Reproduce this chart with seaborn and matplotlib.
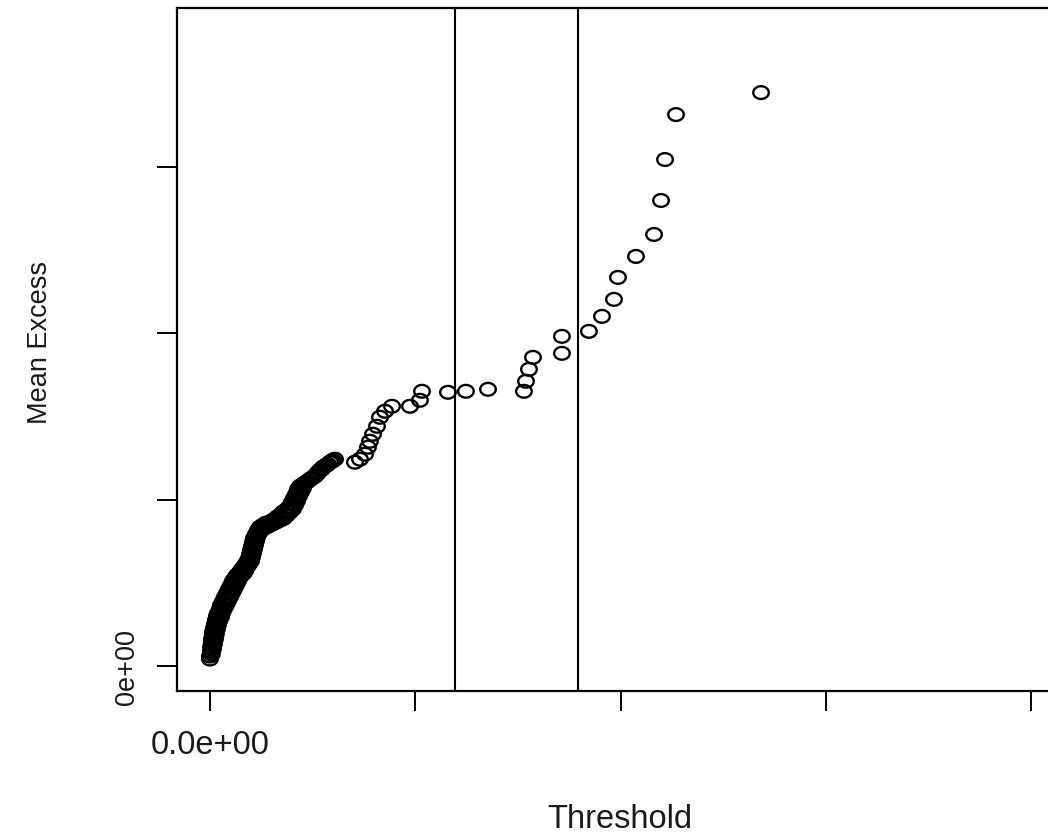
import matplotlib
matplotlib.use("Agg")
import matplotlib.pyplot as plt
import seaborn as sns
import pandas as pd
import numpy as np
from matplotlib.path import Path
from matplotlib.markers import MarkerStyle

# ---- data ----
threshold = [
    0, 10, 10, 19, 19, 29, 29, 39, 49, 58, 68, 78, 97, 107, 127, 146, 166, 185,
    205, 224, 243, 263, 292, 312, 341, 360, 380, 390, 399, 409, 419, 429, 448,
    468, 487, 516, 545, 584, 614, 653, 682, 711, 740, 769, 799, 818, 838, 857,
    877, 906, 935, 974, 1003, 1042, 1071, 1101, 1130, 1169, 1198, 1218,
    19, 29, 39, 49, 58, 68, 78, 88, 107, 117, 136, 156, 175, 195, 214, 234,
    253, 273, 292, 321, 341, 360, 380, 399, 409, 419, 429, 438, 448, 458, 477,
    497, 526, 565, 604, 643, 682, 721, 750, 779, 808, 828, 847, 867, 886, 906,
    0, 10, 19, 29, 29, 39, 49, 49, 58, 68, 78, 88, 107, 117, 136, 156, 175,
    195, 214, 234, 253, 273, 302, 321, 351, 370, 390, 399, 409, 419, 429, 438,
    458, 477, 506, 536, 565, 594, 633, 662, 701, 730, 760, 789, 808, 828, 847,
    867, 896, 925, 955, 994, 1023, 1052, 1091, 1120, 1149, 1188,
    1412, 1461, 1510, 1539, 1558, 1588, 1627, 1656, 1705, 1773, 1948, 2045,
    2065, 2318, 2493, 2708, 3058, 3078, 3107, 3146, 3428, 3428, 3691, 3818,
    3935, 3974, 4149, 4325, 4393, 4432, 4539, 5367,
]
mean_excess = [
    60, 90, 114, 138, 162, 186, 204, 228, 252, 276, 300, 318, 342, 366, 390,
    414, 438, 462, 486, 510, 528, 546, 564, 582, 606, 624, 648, 672, 696, 720,
    744, 768, 792, 816, 834, 846, 858, 864, 876, 894, 906, 924, 936, 954, 984,
    1008, 1032, 1062, 1080, 1092, 1104, 1122, 1134, 1152, 1176, 1194, 1206,
    1224, 1236, 1242,
    72, 102, 132, 162, 192, 222, 246, 270, 294, 318, 342, 366, 390, 414, 438,
    462, 486, 510, 534, 552, 570, 594, 612, 630, 654, 678, 702, 726, 750, 774,
    798, 816, 828, 840, 852, 864, 876, 888, 906, 924, 942, 966, 990, 1020,
    1044, 1068,
    42, 78, 102, 126, 150, 174, 198, 222, 240, 264, 288, 306, 324, 348, 372,
    396, 420, 444, 468, 492, 510, 528, 546, 564, 588, 606, 642, 660, 684, 708,
    732, 756, 780, 804, 822, 840, 852, 858, 870, 882, 900, 912, 930, 954, 972,
    1002, 1020, 1050, 1080, 1098, 1110, 1128, 1140, 1164, 1182, 1200, 1212,
    1230,
    1224, 1242, 1272, 1314, 1350, 1392, 1440, 1494, 1530, 1560, 1560, 1596,
    1650, 1644, 1650, 1662, 1650, 1710, 1782, 1854, 1878, 1980, 2010, 2100,
    2202, 2334, 2460, 2592, 2796, 3042, 3312, 3444,
]
vlines = [2386, 3584]

x_ticks = [0, 2000, 4000, 6000, 8000]
x_tick_labels = ["0.0e+00", "", "", "", ""]
y_ticks = [0, 1000, 2000, 3000]
y_tick_labels = ["0e+00", "", "", ""]

x_label = "Threshold"
y_label = "Mean Excess"

df = pd.DataFrame({"Threshold": threshold, "MeanExcess": mean_excess})

# ---- style ----
sns.set_theme(style="white")
plt.rcParams["font.family"] = ["Liberation Sans", "DejaVu Sans"]

W, H = 1048, 837
fig = plt.figure(figsize=(W / 100, H / 100), dpi=100)
fig.patch.set_facecolor("white")

ax_left, ax_right, ax_top, ax_bottom = 177, 1048, 9, 692
ax = fig.add_axes([ax_left / W, 1 - ax_bottom / H,
                   (ax_right - ax_left) / W, (ax_bottom - ax_top) / H])
ax.set_facecolor("white")

# slightly wide ellipse marker (reference image is stretched horizontally)
t = np.linspace(0, 2 * np.pi, 60)
ell = Path(np.column_stack([np.cos(t), 0.82 * np.sin(t)]), closed=True)
marker = MarkerStyle(ell)

sns.scatterplot(data=df, x="Threshold", y="MeanExcess", ax=ax,
                marker=marker, s=125, facecolors="none",
                edgecolor="black", linewidth=1.7, legend=False, zorder=3)

for v in vlines:
    ax.axvline(v, color="black", linewidth=1.5, zorder=2)

ax.set_xlim(-321, 8162)
ax.set_ylim(-150, 3952)

ax.set_xticks(x_ticks)
ax.set_xticklabels(x_tick_labels, fontsize=23.5)
ax.set_yticks(y_ticks)
ax.set_yticklabels(y_tick_labels, fontsize=19.5, rotation=90, va="center")

ax.tick_params(axis="both", direction="out", length=14.4, width=1.4,
               color="black", labelcolor="#1a1a1a")
ax.tick_params(axis="x", pad=13, bottom=True)
ax.tick_params(axis="y", pad=12, left=True)

for side in ["left", "bottom", "top"]:
    ax.spines[side].set_visible(True)
    ax.spines[side].set_color("black")
    ax.spines[side].set_linewidth(1.6)
ax.spines["right"].set_visible(False)

ax.set_xlabel(x_label, fontsize=23.5, color="#1a1a1a")
ax.xaxis.label.set_va("center")
ax.xaxis.set_label_coords((620 - ax_left) / (ax_right - ax_left),
                          (ax_bottom - 820) / (ax_bottom - ax_top))
ax.set_ylabel(y_label, fontsize=19.5, color="#1a1a1a")
ax.yaxis.label.set(va="center", ha="center", rotation_mode="default")
ax.yaxis.set_label_coords((40 - ax_left) / (ax_right - ax_left),
                          (ax_bottom - 342.5) / (ax_bottom - ax_top))

fig.savefig("out.png", dpi=100, facecolor="white")
